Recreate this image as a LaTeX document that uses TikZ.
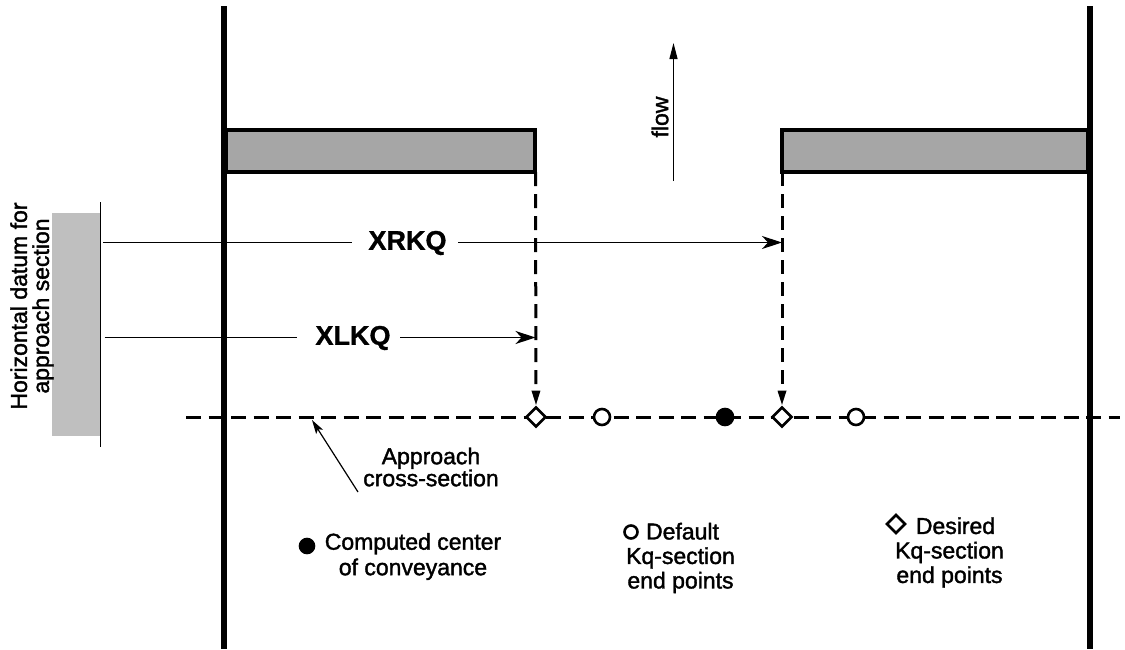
\documentclass[tikz,border=0pt]{standalone}
\usepackage{fontspec}
\setmainfont[FakeBold=1.6]{Liberation Sans}
\newfontfamily\boldlab[FakeBold=1.2]{Liberation Sans Bold}
\usetikzlibrary{arrows.meta,shapes.geometric}
\definecolor{abutgray}{HTML}{A6A6A6}
\definecolor{datumgray}{HTML}{BFBFBF}
\tikzset{
 wall/.style={line width=6pt},
 abut/.style={draw,fill=abutgray,line width=4pt},
 thin line/.style={line width=1.2pt},
 dim/.style={line width=1.2pt,-{Stealth[length=20pt,width=13pt,inset=6pt]}},
 dashline/.style={line width=3pt,dash pattern=on 15pt off 7.5pt},
 dropline/.style={line width=3pt,dash pattern=on 14pt off 8pt,-{Triangle[length=15pt,width=8pt]}},
 lab/.style={font=\fontsize{23}{22}\selectfont,align=center,inner sep=0pt},
 legend/.style={font=\fontsize{23}{24.5}\selectfont,align=center,inner sep=0pt},
 biglab/.style={font=\fontsize{27}{27}\selectfont\boldlab,inner sep=0pt},
 opencirc/.style={circle,draw,fill=white,line width=2.6pt,minimum size=16pt,inner sep=0pt},
 fullcirc/.style={circle,draw,fill=black,line width=2.6pt,minimum size=16pt,inner sep=0pt},
 opendia/.style={diamond,draw,fill=white,line width=2.6pt,minimum size=20pt,inner sep=0pt,aspect=1},
}
\begin{document}
\begin{tikzpicture}[x=1pt,y=-1pt]
\useasboundingbox (0,0) rectangle (1125,649);
% datum
\fill[datumgray] (52,213) rectangle (100,436);
\coordinate (dt) at (100.5,202); \coordinate (db) at (100.5,447);
\draw[thin line] (dt) -- (db);
\node[lab,rotate=90] (datum) at (32,306) {Horizontal datum for\\approach section};
% section line
\coordinate (sl) at (186,417); \coordinate (sr) at (1120,417);
\draw[dashline] (sl) -- (sr);
% walls
\coordinate (lt) at (224,6); \coordinate (lb) at (224,649);
\coordinate (rt) at (1090,6); \coordinate (rb) at (1090,649);
\draw[wall] (lt) -- (lb);
\draw[wall] (rt) -- (rb);
% abutments
\draw[abut] (226,129.5) rectangle (535,171.5);
\draw[abut] (782,129.5) rectangle (1088,171.5);
\coordinate (ae) at (535.5,172); \coordinate (be) at (782,172);
% markers
\node[opendia] (d1) at (536,417) {};
\node[opencirc] (c1) at (602,417) {};
\node[fullcirc] (c2) at (725,417) {};
\node[opendia] (d2) at (782,417) {};
\node[opencirc] (c3) at (856,417) {};
% drop lines
\draw[dropline] (ae) -- (d1.north);
\draw[dropline] (be) -- (d2.north);
% dims
\node[biglab] (xr) at (407.5,243) {XRKQ};
\node[biglab] (xl) at (353,338) {XLKQ};
\coordinate (xr0) at (103,242.5); \coordinate (xr1) at (782,242.5);
\coordinate (xl0) at (104.5,337.5); \coordinate (xl1) at (535.5,337.5);
\draw[thin line] (xr0) -- (352,242.5);
\draw[dim] (458,242.5) -- (xr1);
\draw[thin line] (xl0) -- (297,337.5);
\draw[dim] (400,337.5) -- (xl1);
% flow
\coordinate (f0) at (673.5,181); \coordinate (f1) at (673.5,43);
\draw[line width=1.2pt,-{Triangle[length=16pt,width=8pt]}] (f0) -- (f1);
\node[lab,rotate=90] (flow) at (660,117) {flow};
% pointer
\node[lab] (appr) at (431,467) {Approach\\cross-section};
\coordinate (p0) at (358,492);
\coordinate (p1) at (312,420);
\draw[line width=1.2pt,-{Stealth[length=14pt,width=8pt,inset=3pt]}] (p0) -- (p1);
% legend
\node[fullcirc,minimum size=14pt] (k1) at (307,546) {};
\node[legend,font=\fontsize{23}{25.5}\selectfont] (t1) at (413,556.5) {Computed center\\of conveyance};
\node[opencirc,minimum size=13pt] (k2) at (631,532) {};
\node[legend] (t2) at (680.5,558) {\hspace*{4pt}Default\\Kq-section\\end points};
\node[opendia,minimum size=19pt] (k3) at (896,524) {};
\node[legend] (t3) at (949.5,552.5) {\hspace*{12pt}Desired\\Kq-section\\end points};
\end{tikzpicture}
\end{document}
